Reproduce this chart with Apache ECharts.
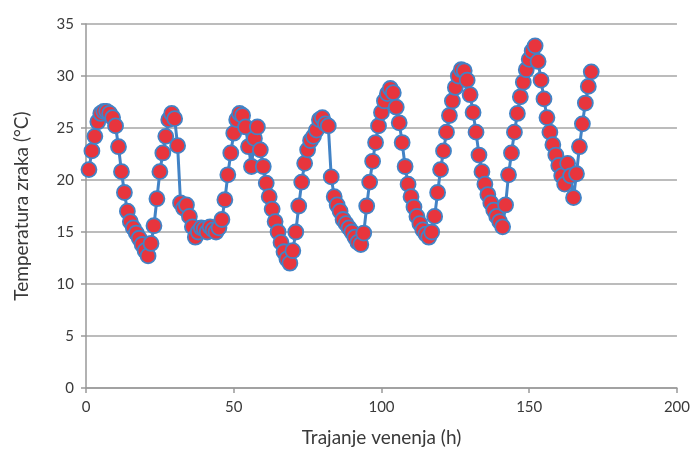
<!DOCTYPE html>
<html>
<head>
<meta charset="utf-8">
<script src="https://cdn.jsdelivr.net/npm/echarts@6/dist/echarts.min.js"></script>
<style>
  html, body { margin: 0; padding: 0; background: #fff; }
  #chart { width: 693px; height: 455px; }
</style>
</head>
<body>
<div id="chart"></div>
<script>
// hourly air temperature during withering
const firstHour = 1;
const temps = [
  21.0, 22.8, 24.2, 25.6, 26.4, 26.6, 26.6, 26.4, 26.0, 25.2,
  23.2, 20.8, 18.8, 17.0, 16.0, 15.4, 14.9, 14.4, 13.8, 13.2,
  12.7, 13.9, 15.6, 18.2, 20.8, 22.6, 24.2, 25.8, 26.4, 25.9,
  23.3, 17.8, 17.3, 17.6, 16.5, 15.5, 14.5, 15.0, 15.4, 15.3,
  15.0, 15.5, 15.2, 15.0, 15.4, 16.2, 18.1, 20.5, 22.6, 24.5,
  25.8, 26.4, 26.2, 25.1, 23.2, 21.3, 24.0, 25.1, 22.9, 21.3,
  19.7, 18.4, 17.2, 16.0, 15.0, 14.0, 13.1, 12.4, 12.0, 13.2,
  15.0, 17.5, 19.8, 21.6, 22.9, 23.8, 24.2, 24.8, 25.8, 26.0,
  25.4, 25.2, 20.3, 18.4, 17.6, 17.0, 16.2, 15.8, 15.4, 15.0,
  14.5, 14.0, 13.8, 14.9, 17.5, 19.8, 21.8, 23.6, 25.2, 26.5,
  27.6, 28.3, 28.8, 28.4, 27.0, 25.5, 23.6, 21.3, 19.6, 18.4,
  17.4, 16.5, 15.8, 15.2, 14.8, 14.5, 15.0, 16.5, 18.8, 21.0,
  22.8, 24.6, 26.2, 27.6, 28.9, 30.0, 30.6, 30.5, 29.6, 28.2,
  26.5, 24.6, 22.4, 20.8, 19.6, 18.6, 17.8, 17.1, 16.5, 16.0,
  15.5, 17.6, 20.5, 22.6, 24.6, 26.4, 28.0, 29.4, 30.6, 31.6,
  32.4, 32.9, 31.4, 29.6, 27.8, 26.0, 24.6, 23.4, 22.4, 21.4,
  20.4, 19.6, 21.6, 20.4, 18.3, 20.6, 23.2, 25.4, 27.4, 29.0,
  30.4
];
const xTitle = 'Trajanje venenja (h)';
const yTitle = 'Temperatura zraka (°C)';

const points = temps.map((t, i) => [firstHour + i, t]);

const font = 'Lato, "Open Sans", sans-serif';
const chart = echarts.init(document.getElementById('chart'));
chart.setOption({
  animation: false,
  backgroundColor: '#ffffff',
  grid: { left: 86, right: 15, top: 24, bottom: 67 },
  xAxis: {
    type: 'value',
    min: 0, max: 200, interval: 50,
    name: xTitle,
    nameLocation: 'middle',
    nameGap: 40,
    nameTextStyle: { fontFamily: font, fontSize: 19, color: '#3a3a3a' },
    axisLine: { onZero: false, lineStyle: { color: '#999', width: 1.5 } },
    axisTick: { show: true, length: 5, lineStyle: { color: '#999', width: 1.5 } },
    axisLabel: { fontFamily: font, fontSize: 15, color: '#3a3a3a', margin: 12 },
    splitLine: { show: false }
  },
  yAxis: {
    type: 'value',
    min: 0, max: 35, interval: 5,
    name: yTitle,
    nameLocation: 'middle',
    nameGap: 55,
    nameTextStyle: { fontFamily: font, fontSize: 19, color: '#3a3a3a' },
    axisLine: { show: true, lineStyle: { color: '#999', width: 1.5 } },
    axisTick: { show: true, length: 5, lineStyle: { color: '#999', width: 1.5 } },
    axisLabel: { fontFamily: font, fontSize: 15, color: '#3a3a3a', margin: 12 },
    splitLine: { show: true, lineStyle: { color: '#a6a6a6', width: 1.5 } }
  },
  series: [{
    type: 'line',
    data: points,
    symbol: 'circle',
    symbolSize: 15,
    showAllSymbol: true,
    lineStyle: { color: '#4283c6', width: 3 },
    itemStyle: { color: '#e8353d', borderColor: '#4283c6', borderWidth: 1.8 }
  }]
});
</script>
</body>
</html>
